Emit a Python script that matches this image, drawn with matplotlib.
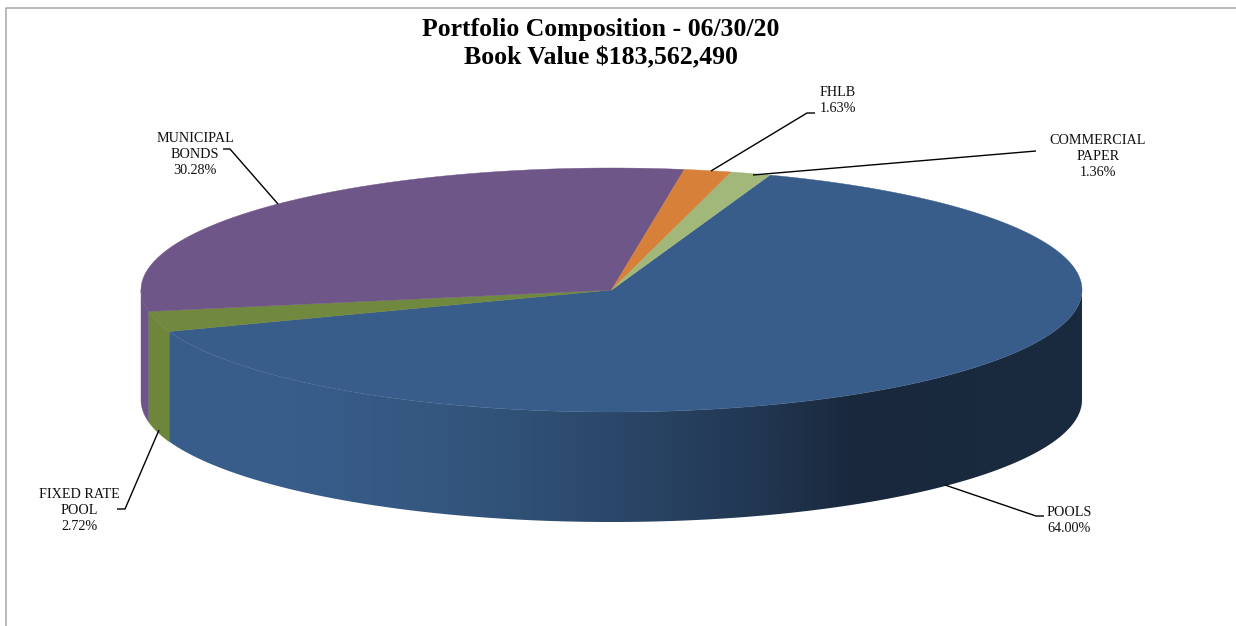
import numpy as np
import matplotlib
matplotlib.use("Agg")
import matplotlib.pyplot as plt
from matplotlib.colors import LinearSegmentedColormap
from matplotlib.patches import Polygon

plt.rcParams['font.family'] = ['Liberation Serif', 'DejaVu Serif']

title = "Portfolio Composition - 06/30/20\nBook Value $183,562,490"
# clockwise from the 70 degree start
categories = ["POOLS", "FIXED RATE\nPOOL", "MUNICIPAL\nBONDS", "FHLB", "COMMERCIAL\nPAPER"]
shares = [64.00, 2.72, 30.28, 1.63, 1.36]
top_colors = ["#385d8a", "#71893f", "#6f5689", "#d6803a", "#a2b87a"]
wall_colors = ["#385d8a", "#6e863a", "#6e5488", "#b86d30", "#8ea46a"]

# geometry in image pixels
cx, cy, rx, ry, depth = 611.5, 290, 470.5, 122, 110
start_angle = 70.3

# where the label text sits and the leader line to it
label_pos = [(1069, 520), (79, 511), (195, 155), (838, 101), (1098, 157)]
leaders = [
    [(945, 485), (1036, 516), (1044, 516)],
    [(159, 430), (125, 509), (117, 509)],
    [(278, 204), (230, 149), (223, 149)],
    [(711, 171), (807, 113), (815, 113)],
    [(753, 175), (1036, 151)],
]


def arc(a1, a2, dy=0):
    t = np.radians(np.linspace(a1, a2, 400))
    return np.column_stack((cx + rx*np.cos(t), cy + dy - ry*np.sin(t)))


fig = plt.figure(figsize=(12.36, 6.26), dpi=100)
ax = fig.add_axes([0, 0, 1, 1])
ax.axis('off')

# chart frame, only top and left are inside the crop
ax.plot([5.5, 5.5, 1236], [626, 8, 8], color='#a6a6a6', lw=1.1, zorder=1)

stops = np.cumsum([0] + shares) * 3.6
t1 = start_angle - stops[:-1]
t2 = start_angle - stops[1:]

# walls, only the part of each slice facing the front (180-360 degrees)
shade = LinearSegmentedColormap.from_list('wall', [
    (0.0, '#385d8a'), (0.14, '#385d8a'), (0.3, '#34577f'), (0.47, '#2c496c'),
    (0.62, '#233a56'), (0.76, '#19283c'), (1.0, '#1a2b40')])
for i in range(len(shares)):
    lo = t2[i] % 360
    hi = lo + shares[i]*3.6
    a1, a2 = max(lo, 180), min(hi, 360)
    if a2 <= a1:
        continue
    poly = np.vstack((arc(a1, a2), arc(a2, a1, depth)))
    if i == 0:
        patch = Polygon(poly, closed=True, fc='none', ec='none', zorder=2)
        ax.add_patch(patch)
        grad = np.linspace(0, 1, 512)[None, :]
        im = ax.imshow(grad, cmap=shade, aspect='auto', zorder=2,
                       extent=(poly[:, 0].min(), poly[:, 0].max(), cy + depth + ry, cy - ry))
        im.set_clip_path(patch)
    else:
        ax.add_patch(Polygon(poly, closed=True, fc=wall_colors[i], ec=wall_colors[i], lw=0.3, zorder=2))

# top faces
for i in range(len(shares)):
    poly = np.vstack(([[cx, cy]], arc(t1[i], t2[i])))
    ax.add_patch(Polygon(poly, closed=True, fc=top_colors[i], ec=top_colors[i], lw=0.3, zorder=3))

for line in leaders:
    xs, ys = zip(*line)
    ax.plot(xs, ys, color='black', lw=1.0, zorder=4, solid_capstyle='butt')

for name, share, (x, y) in zip(categories, shares, label_pos):
    ax.text(x, y, "%s\n%.2f%%" % (name, share), ha='center', va='center',
            fontsize=10.2, color='#111111', linespacing=1.3, zorder=5)

ax.text(601, 43.5, title, ha='center', va='center', fontsize=18.5, fontweight='bold',
        linespacing=1.28, color='black', zorder=5)

ax.set_xlim(0, 1236)
ax.set_ylim(626, 0)

fig.savefig('out.png', dpi=100)
